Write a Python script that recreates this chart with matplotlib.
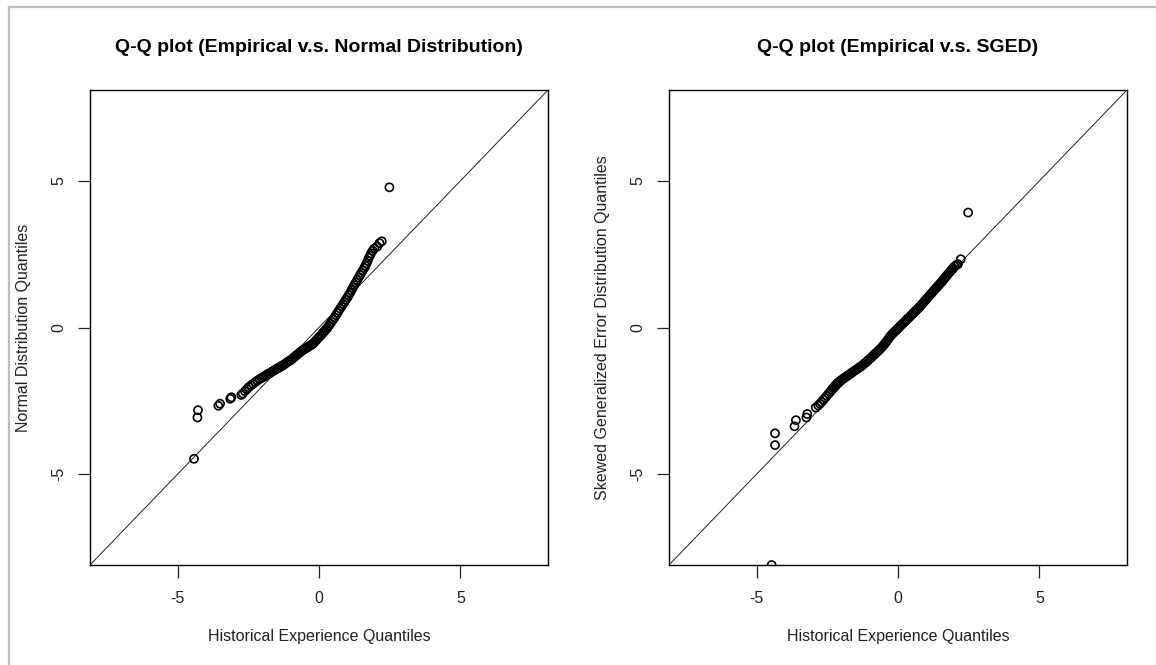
import matplotlib
matplotlib.use('Agg')
import matplotlib.pyplot as plt
from matplotlib.lines import Line2D

plt.rcParams['font.family'] = ['Liberation Sans', 'DejaVu Sans']

# left panel: historical quantiles vs normal quantiles
hist_left = [-4.42, -4.30, -4.28, -3.56, -3.50, -3.14, -3.10,
             -2.75, -2.70, -2.62, -2.55, -2.48, -2.40, -2.33, -2.25, -2.18, -2.10, -2.03, -1.96, -1.90,
             -1.85, -1.80, -1.75, -1.70, -1.65, -1.60, -1.55, -1.50, -1.45, -1.40,
             -1.35, -1.30, -1.25, -1.20, -1.15, -1.10, -1.05, -1.00, -0.95, -0.90,
             -0.85, -0.80, -0.75, -0.70, -0.65, -0.60, -0.55, -0.50, -0.45, -0.40,
             -0.35, -0.30, -0.25, -0.20, -0.15, -0.10, -0.05, 0.00, 0.05, 0.10,
             0.15, 0.20, 0.25, 0.30, 0.35, 0.40, 0.45, 0.50, 0.55, 0.60,
             0.65, 0.70, 0.75, 0.80, 0.85, 0.90, 0.95, 1.00, 1.05, 1.10,
             1.15, 1.20, 1.25, 1.30, 1.35, 1.40, 1.45, 1.50, 1.55,
             1.60, 1.64, 1.68, 1.72, 1.76, 1.80, 1.84, 1.90, 1.96, 2.06, 2.14, 2.22, 2.49]
normal_q = [-4.48, -3.07, -2.82, -2.67, -2.60, -2.43, -2.38,
            -2.30, -2.25, -2.17, -2.10, -2.03, -1.97, -1.92, -1.86, -1.81, -1.76, -1.72, -1.68, -1.65,
            -1.61, -1.58, -1.56, -1.53, -1.50, -1.47, -1.44, -1.41, -1.38, -1.36,
            -1.33, -1.30, -1.27, -1.24, -1.20, -1.17, -1.14, -1.11, -1.07, -1.03,
            -0.99, -0.95, -0.91, -0.87, -0.83, -0.79, -0.76, -0.73, -0.70, -0.67,
            -0.64, -0.61, -0.58, -0.54, -0.49, -0.44, -0.38, -0.33, -0.28, -0.23,
            -0.17, -0.12, -0.06, -0.01, 0.06, 0.13, 0.20, 0.27, 0.34, 0.42,
            0.50, 0.57, 0.65, 0.72, 0.80, 0.87, 0.95, 1.02, 1.10, 1.18,
            1.27, 1.36, 1.45, 1.53, 1.62, 1.70, 1.79, 1.87, 1.95,
            2.03, 2.10, 2.18, 2.27, 2.37, 2.45, 2.53, 2.62, 2.70, 2.76, 2.88, 2.94, 4.78]

# right panel: historical quantiles vs SGED quantiles
hist_right = [-4.47, -4.35, -4.35, -3.66, -3.61, -3.24, -3.21,
              -2.91, -2.82, -2.76, -2.70, -2.64, -2.58, -2.52, -2.45,
              -2.40, -2.35, -2.30, -2.25, -2.20, -2.15, -2.10, -2.05, -2.00, -1.95,
              -1.90, -1.85, -1.80, -1.75, -1.70, -1.65, -1.60, -1.55, -1.50, -1.45,
              -1.40, -1.35, -1.30, -1.25, -1.20, -1.15, -1.10, -1.05, -1.00, -0.95,
              -0.90, -0.85, -0.80, -0.75, -0.70, -0.65, -0.60, -0.55, -0.50, -0.45,
              -0.40, -0.35, -0.30, -0.25, -0.20, -0.15, -0.10, -0.05, 0.00, 0.05,
              0.10, 0.15, 0.20, 0.25, 0.30, 0.35, 0.40, 0.45, 0.50, 0.55,
              0.60, 0.65, 0.70, 0.75, 0.80, 0.85, 0.90, 0.95, 1.00, 1.05,
              1.10, 1.15, 1.20, 1.25, 1.30, 1.35, 1.40, 1.45, 1.50, 1.55,
              1.60, 1.65, 1.70, 1.75, 1.80, 1.85, 1.90,
              1.95, 2.00, 2.06, 2.12, 2.22, 2.48]
sged_q = [-8.10, -4.01, -3.61, -3.37, -3.16, -3.07, -2.95,
          -2.73, -2.66, -2.60, -2.54, -2.47, -2.40, -2.33, -2.25,
          -2.19, -2.13, -2.07, -2.02, -1.96, -1.90, -1.86, -1.83, -1.79, -1.76,
          -1.72, -1.69, -1.66, -1.62, -1.59, -1.55, -1.52, -1.48, -1.45, -1.42,
          -1.39, -1.35, -1.32, -1.28, -1.24, -1.20, -1.16, -1.11, -1.07, -1.03,
          -0.98, -0.93, -0.89, -0.84, -0.80, -0.75, -0.70, -0.65, -0.59, -0.53,
          -0.47, -0.40, -0.33, -0.27, -0.22, -0.17, -0.12, -0.08, -0.03, 0.02,
          0.07, 0.12, 0.16, 0.21, 0.26, 0.31, 0.35, 0.40, 0.45, 0.50,
          0.55, 0.59, 0.64, 0.69, 0.74, 0.80, 0.85, 0.91, 0.96, 1.02,
          1.07, 1.13, 1.18, 1.24, 1.29, 1.35, 1.40, 1.45, 1.51, 1.56,
          1.62, 1.68, 1.74, 1.80, 1.86, 1.91, 1.97,
          2.02, 2.08, 2.13, 2.16, 2.33, 3.92]

ticks = [-5, 0, 5]
lim = 8.1

W, H = 1156, 665
fig = plt.figure(figsize=(W / 100, H / 100), dpi=100)

# light grey frame along top and left edge
fig.add_artist(Line2D([8.5 / W, 8.5 / W], [0, 1 - 6.5 / H], transform=fig.transFigure,
                      color='#bdbdbd', lw=1.6))
fig.add_artist(Line2D([8.5 / W, 1], [1 - 6.5 / H, 1 - 6.5 / H], transform=fig.transFigure,
                      color='#bdbdbd', lw=1.6))


def qq_panel(ax, x, y, title, ylabel):
    ax.axline((0, 0), slope=1, color='#222222', lw=0.7)
    ax.scatter(x, y, s=34, facecolors='none', edgecolors='black', linewidths=1.2, zorder=3)
    ax.set_xlim(-lim, lim)
    ax.set_ylim(-lim, lim)
    ax.set_xticks(ticks)
    ax.set_yticks(ticks)
    ax.set_xticklabels([str(t) for t in ticks])
    ax.set_yticklabels([str(t) for t in ticks], rotation=90, va='center')
    ax.tick_params(direction='out', length=9, width=0.9, labelsize=11.5, colors='#222222')
    ax.tick_params(axis='x', pad=10)
    ax.tick_params(axis='y', pad=8)
    for s in ax.spines.values():
        s.set_linewidth(1.0)
    ax.set_title(title, fontsize=14, fontweight='bold', pad=27)
    ax.set_xlabel('Historical Experience Quantiles', fontsize=11.5, labelpad=16, color='#222222')
    ax.set_ylabel(ylabel, fontsize=11.5, labelpad=15, color='#222222')


ax1 = fig.add_axes([90 / W, 100 / H, 458 / W, 475 / H])
qq_panel(ax1, hist_left, normal_q, 'Q-Q plot (Empirical v.s. Normal Distribution)',
         'Normal Distribution Quantiles')

ax2 = fig.add_axes([669 / W, 100 / H, 458 / W, 475 / H])
qq_panel(ax2, hist_right, sged_q, 'Q-Q plot (Empirical v.s. SGED)',
         'Skewed Generalized Error Distribution Quantiles')

fig.savefig('out.png', dpi=100)
